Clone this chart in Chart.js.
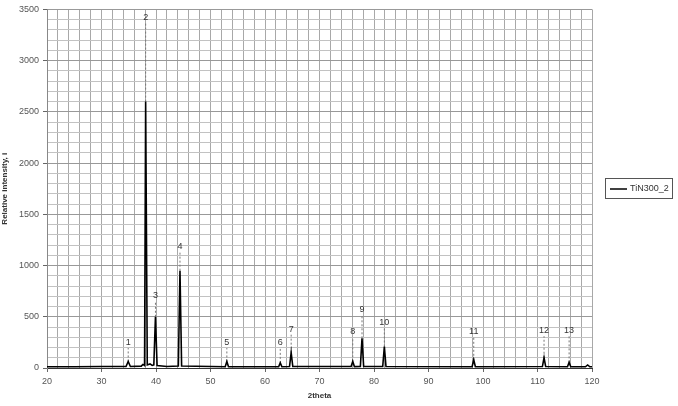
<!DOCTYPE html>
<html>
<head>
<meta charset="utf-8">
<script src="https://cdn.jsdelivr.net/npm/chart.js@4/dist/chart.umd.min.js"></script>
<style>
  html, body { margin:0; padding:0; background:#fff; }
  #wrap { width:678px; height:406px; }
</style>
</head>
<body>
<div id="wrap"><canvas id="xrdChart" width="678" height="406"></canvas></div>
<script>
// scan (2theta, intensity)
const twoTheta = [20, 25, 30, 34.5, 34.9, 35.3, 37.3, 37.6, 37.9, 38.1, 38.4, 38.9, 39.3, 39.6, 39.9, 40.2, 42, 44.1, 44.4, 44.7,
  52.7, 53.0, 53.3, 62.5, 62.8, 63.1, 64.5, 64.8, 65.1, 75.8, 76.1, 76.4, 77.5, 77.8, 78.1, 81.6, 81.9, 82.2,
  98.0, 98.3, 98.6, 110.9, 111.2, 111.5, 115.5, 115.8, 116.1, 118.8, 119.2, 119.6, 120];
const intensity = [12, 12, 14, 15, 64, 15, 18, 35, 25, 2600, 30, 40, 25, 30, 500, 25, 14, 20, 950, 20,
  12, 64, 12, 12, 50, 12, 14, 150, 14, 14, 65, 14, 16, 290, 16, 15, 210, 15,
  12, 80, 12, 14, 100, 14, 12, 55, 12, 12, 30, 12, 12];

// peak markers
const peakNames = ['1','2','3','4','5','6','7','8','9','10','11','12','13'];
const peakPos = [34.9, 38.1, 39.9, 44.4, 53.0, 62.8, 64.8, 76.1, 77.8, 81.9, 98.3, 111.2, 115.8];
const peakTop = [64, 2600, 500, 950, 64, 50, 150, 65, 290, 210, 80, 100, 55];
const labelY = [250, 3420, 710, 1190, 250, 245, 380, 355, 575, 440, 355, 365, 365];

const seriesName = 'TiN300_2';

const scan = twoTheta.map((t,i)=>({x:t, y:intensity[i]}));
const markers = [];
peakPos.forEach((p,i)=>{
  markers.push({x:p, y:peakTop[i]});
  markers.push({x:p, y:labelY[i]-55});
  markers.push({x:p, y:null});
});

const FONT = '"Liberation Sans", Arial, sans-serif';

const peakLabels = {
  id:'peakLabels',
  afterDatasetsDraw(chart){
    const {ctx, scales:{x,y}} = chart;
    ctx.save();
    ctx.font = '9px ' + FONT;
    ctx.fillStyle = '#333';
    ctx.textAlign = 'center';
    ctx.textBaseline = 'middle';
    peakNames.forEach((n,i)=>{
      ctx.fillText(n, x.getPixelForValue(peakPos[i]), y.getPixelForValue(labelY[i]));
    });
    ctx.restore();
  }
};

const boxLegend = {
  id:'boxLegend',
  afterDraw(chart){
    const ctx = chart.ctx;
    ctx.save();
    ctx.strokeStyle = '#555';
    ctx.lineWidth = 1;
    ctx.strokeRect(605.5, 178.5, 67, 20);
    ctx.strokeStyle = '#000';
    ctx.lineWidth = 1.5;
    ctx.beginPath(); ctx.moveTo(610, 189); ctx.lineTo(627, 189); ctx.stroke();
    ctx.font = '9px ' + FONT;
    ctx.fillStyle = '#333';
    ctx.textBaseline = 'middle';
    ctx.fillText(seriesName, 630, 189);
    ctx.restore();
  }
};

new Chart(document.getElementById('xrdChart'), {
  type:'line',
  data:{
    datasets:[
      { label:seriesName, data:scan, borderColor:'#000', borderWidth:1.6, pointRadius:0, tension:0, fill:false },
      { label:'markers', data:markers, borderColor:'#777', borderWidth:1, borderDash:[2,2], pointRadius:0, spanGaps:false, fill:false }
    ]
  },
  options:{
    responsive:false,
    animation:false,
    layout:{ padding:{ top:7, right:86, left:0, bottom:5 } },
    plugins:{ legend:{display:false}, tooltip:{enabled:false} },
    scales:{
      x:{
        type:'linear', min:20, max:120,
        afterFit(s){ s.height = 33; },
        ticks:{ stepSize:2, autoSkip:false, maxRotation:0, padding:4, color:'#555', font:{family:FONT, size:9},
          callback:v => v % 10 === 0 ? v : '' },
        grid:{ color:'#a8a8a8', lineWidth:1, tickLength:4,
          tickColor:c => (c.tick && c.tick.value % 10 === 0) ? '#666' : 'rgba(0,0,0,0)' },
        border:{ color:'#333' },
        title:{ display:true, text:'2theta', color:'#333', font:{family:FONT, size:8, weight:'bold'}, padding:{top:0, bottom:0} }
      },
      y:{
        min:0, max:3500,
        afterFit(s){ s.width = 47; },
        ticks:{ stepSize:100, autoSkip:false, padding:4, color:'#555', font:{family:FONT, size:9},
          callback:v => v % 500 === 0 ? v : '' },
        grid:{ color:c => (c.tick && c.tick.value % 500 === 0) ? '#999' : '#c2c2c2', lineWidth:1, tickLength:4,
          tickColor:c => (c.tick && c.tick.value % 500 === 0) ? '#666' : 'rgba(0,0,0,0)' },
        border:{ color:'#888' },
        title:{ display:true, text:'Relative intensity, i', color:'#333', font:{family:FONT, size:8, weight:'bold'}, padding:{top:0, bottom:2} }
      }
    }
  },
  plugins:[peakLabels, boxLegend]
});
</script>
</body>
</html>
